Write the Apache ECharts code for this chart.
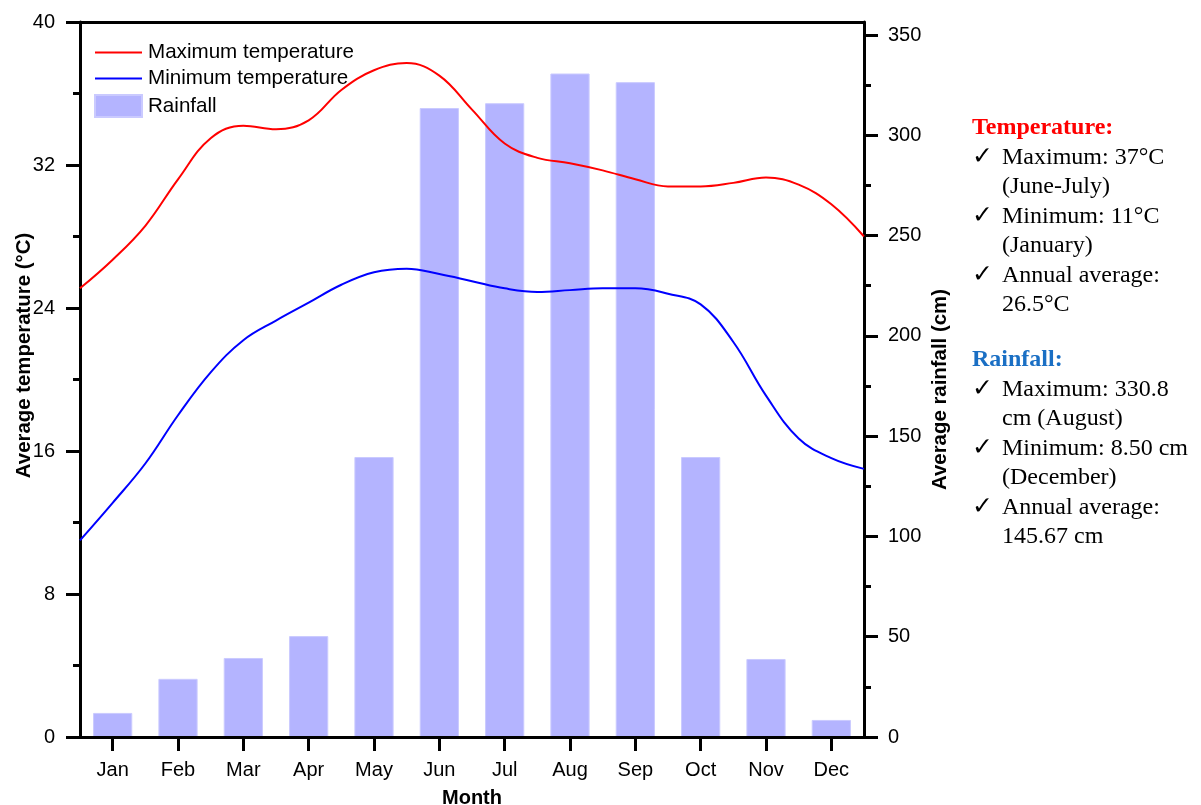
<!DOCTYPE html>
<html>
<head>
<meta charset="utf-8">
<script src="https://cdn.jsdelivr.net/npm/echarts@6/dist/echarts.min.js"></script>
<style>
  html, body { margin: 0; padding: 0; background: #fff; }
  #chart { width: 1201px; height: 805px; }
</style>
</head>
<body>
<div id="chart"></div>
<script>
// categories and values
const months = ['Jan', 'Feb', 'Mar', 'Apr', 'May', 'Jun', 'Jul', 'Aug', 'Sep', 'Oct', 'Nov', 'Dec']
const rainfall = [12, 29, 39.4, 50.3, 139.6, 313.6, 316, 330.8, 326.5, 139.6, 38.9, 8.5]

// smoothed temperature curves, sampled every half month (1 = Jan centre)
const curvePos = [0.5, 1, 1.5, 2, 2.5, 3, 3.5, 4, 4.5, 5, 5.5, 6, 6.5, 7, 7.5, 8, 8.5, 9, 9.5, 10, 10.5, 11, 11.5, 12, 12.5]
const maxTemp = [25.1, 26.7, 28.6, 31.2, 33.5, 34.2, 34.0, 34.5, 36.2, 37.3, 37.7, 37.0, 35.1, 33.2, 32.4, 32.1, 31.7, 31.2, 30.8, 30.8, 31.0, 31.3, 30.9, 29.8, 28.0]
const minTemp = [11.0, 13.1, 15.3, 18.0, 20.4, 22.2, 23.3, 24.3, 25.3, 26.0, 26.2, 25.9, 25.5, 25.1, 24.9, 25.0, 25.1, 25.1, 24.8, 24.2, 22.1, 19.1, 16.7, 15.6, 15.0]

const tempTicks = { min: 0, max: 40, interval: 8 }
const rainTicks = { min: 0, max: 350, interval: 50 }

const tempNotes = ['Maximum: 37°C', '(June-July)', 'Minimum: 11°C', '(January)', 'Annual average:', '26.5°C']
const rainNotes = ['Maximum: 330.8', 'cm (August)', 'Minimum: 8.50 cm', '(December)', 'Annual average:', '145.67 cm']
const checked = [true, false, true, false, true, false]

const sans = '"Liberation Sans", Arial, sans-serif'
const serif = '"Liberation Serif", "Times New Roman", serif'
const black = '#000'
const axisLine = { show: true, onZero: false, lineStyle: { color: black, width: 3 } }

const pair = (xs, ys) => xs.map((x, i) => [x, ys[i]])

// side notes
const notes = []
const noteBlock = (title, color, lines, top) => {
  notes.push({
    type: 'text', x: 972, y: top,
    style: { text: title, font: 'bold 24px ' + serif, fill: color, verticalAlign: 'middle' }
  })
  lines.forEach((t, i) => {
    const y = top + 29.5 * (i + 1)
    if (checked[i]) {
      notes.push({
        type: 'text', x: 972, y: y,
        style: { text: '✓', font: '25px "DejaVu Sans"', fill: black, verticalAlign: 'middle' }
      })
    }
    notes.push({
      type: 'text', x: 1002, y: y,
      style: { text: t, font: '24px ' + serif, fill: black, verticalAlign: 'middle' }
    })
  })
}
noteBlock('Temperature:', '#ff0000', tempNotes, 128)
noteBlock('Rainfall:', '#1a6fc4', rainNotes, 360)

const myChart = echarts.init(document.getElementById('chart'))
myChart.setOption({
  animation: false,
  backgroundColor: '#fff',
  textStyle: { fontFamily: sans },
  grid: [
    { left: 80, right: 337, top: 22, bottom: 68, outerBoundsMode: 'none' },
    { left: 80, right: 337, top: 35, bottom: 68, outerBoundsMode: 'none' }
  ],
  legend: {
    orient: 'vertical',
    left: 94,
    top: 42,
    padding: 0,
    itemWidth: 47,
    itemHeight: 22,
    itemGap: 5,
    textStyle: { fontSize: 20.6, color: black, fontFamily: sans, padding: [0, 0, 0, 1] },
    data: [
      { name: 'Maximum temperature', itemStyle: { opacity: 0 } },
      { name: 'Minimum temperature', itemStyle: { opacity: 0 } },
      { name: 'Rainfall', icon: 'rect' }
    ]
  },
  xAxis: [
    {
      type: 'category',
      gridIndex: 1,
      data: months,
      name: 'Month',
      nameLocation: 'middle',
      nameGap: 51,
      nameMoveOverlap: false,
      nameTextStyle: { fontSize: 20, fontWeight: 'bold', color: black },
      axisLine: axisLine,
      axisTick: { show: true, inside: false, alignWithLabel: true, length: 14, lineStyle: { color: black, width: 3 } },
      axisLabel: { fontSize: 20, color: black, margin: 23 },
      z: 5
    },
    {
      type: 'value',
      gridIndex: 0,
      position: 'top',
      min: 0.5,
      max: 12.5,
      axisLine: axisLine,
      axisTick: { show: false },
      axisLabel: { show: false },
      splitLine: { show: false }
    }
  ],
  yAxis: [
    {
      type: 'value',
      gridIndex: 0,
      position: 'left',
      min: tempTicks.min,
      max: tempTicks.max,
      interval: tempTicks.interval,
      name: 'Average temperature (°C)',
      nameLocation: 'middle',
      nameGap: 46,
      nameMoveOverlap: false,
      nameTextStyle: { fontSize: 20.4, fontWeight: 'bold', color: black, padding: [0, 0, 0, 48] },
      axisLine: axisLine,
      axisTick: { show: true, length: 14, lineStyle: { color: black, width: 3 } },
      minorTick: { show: true, splitNumber: 2, length: 7, lineStyle: { color: black, width: 3 } },
      axisLabel: { fontSize: 20, color: black, margin: 25 },
      splitLine: { show: false }
    },
    {
      type: 'value',
      gridIndex: 0,
      position: 'right',
      min: 0,
      max: 1,
      name: 'Average rainfall (cm)',
      nameLocation: 'middle',
      nameGap: 66,
      nameMoveOverlap: false,
      nameTextStyle: { fontSize: 20.4, fontWeight: 'bold', color: black, padding: [0, 20, 0, 0] },
      axisLine: axisLine,
      axisTick: { show: false },
      axisLabel: { show: false },
      splitLine: { show: false }
    },
    {
      type: 'value',
      gridIndex: 1,
      position: 'right',
      min: rainTicks.min,
      max: rainTicks.max,
      interval: rainTicks.interval,
      axisLine: { show: false },
      axisTick: { show: true, length: 14, lineStyle: { color: black, width: 3 } },
      minorTick: { show: true, splitNumber: 2, length: 7, lineStyle: { color: black, width: 3 } },
      axisLabel: { fontSize: 20, color: black, margin: 24 },
      splitLine: { show: false }
    }
  ],
  series: [
    {
      name: 'Rainfall',
      type: 'bar',
      xAxisIndex: 0,
      yAxisIndex: 2,
      barWidth: '60%',
      itemStyle: { color: '#b4b4ff', borderColor: '#cacaff', borderWidth: 1 },
      data: rainfall
    },
    {
      name: 'Maximum temperature',
      type: 'line',
      xAxisIndex: 1,
      yAxisIndex: 0,
      smooth: 0.4,
      symbol: 'none',
      lineStyle: { color: '#ff0000', width: 2 },
      itemStyle: { color: '#ff0000' },
      data: pair(curvePos, maxTemp)
    },
    {
      name: 'Minimum temperature',
      type: 'line',
      xAxisIndex: 1,
      yAxisIndex: 0,
      smooth: 0.4,
      symbol: 'none',
      lineStyle: { color: '#0000ff', width: 2 },
      itemStyle: { color: '#0000ff' },
      data: pair(curvePos, minTemp)
    }
  ],
  graphic: notes
})

window.addEventListener('resize', myChart.resize)
</script>
</body>
</html>
